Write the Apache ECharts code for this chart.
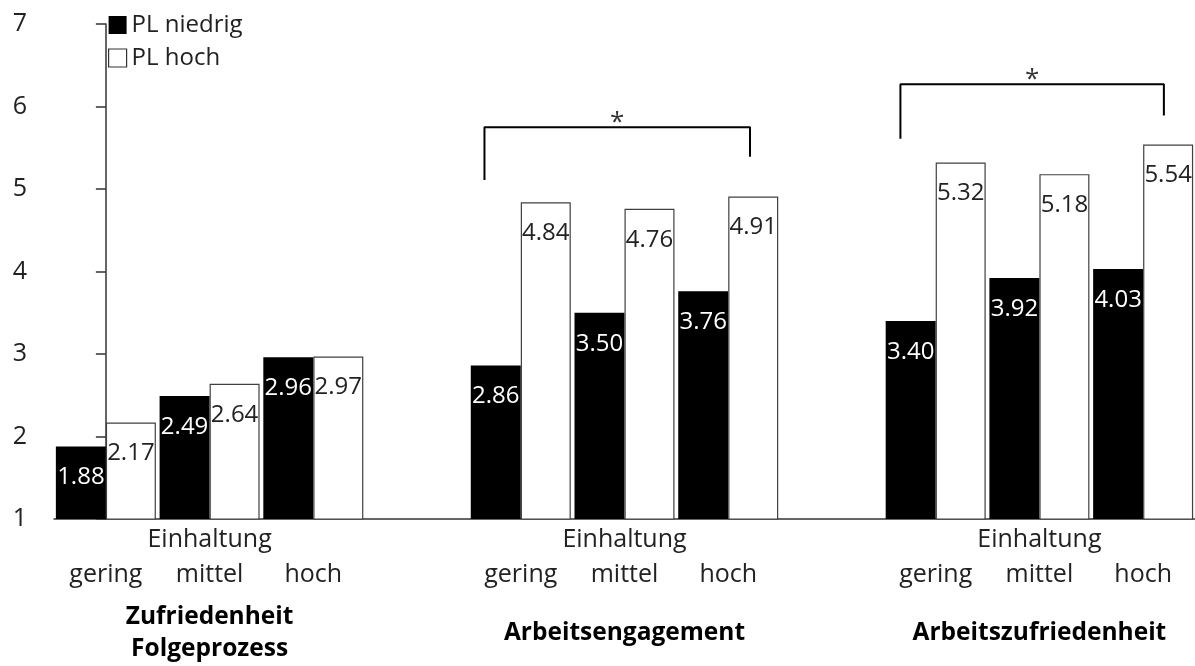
<!DOCTYPE html>
<html>
<head>
<meta charset="utf-8">
<script src="https://cdn.jsdelivr.net/npm/echarts@6/dist/echarts.min.js"></script>
<style>
  html, body { margin: 0; padding: 0; background: #fff; }
  #chart { width: 1195px; height: 666px; }
</style>
</head>
<body>
<div id="chart"></div>
<script>
// Compliance levels within each outcome block
const levels = ['gering', 'mittel', 'hoch'];
const levelCaption = 'Einhaltung';
// Outcome blocks, one per group of three levels
const groupTitles = ['Zufriedenheit\nFolgeprozess', 'Arbeitsengagement', 'Arbeitszufriedenheit'];
// Series names
const seriesNames = ['PL niedrig', 'PL hoch'];
// Means per slot ('-' marks the spacer slot between blocks)
const plNiedrig = [1.88, 2.49, 2.96, '-', 2.86, 3.50, 3.76, '-', 3.40, 3.92, 4.03];
const plHoch    = [2.17, 2.64, 2.97, '-', 4.84, 4.76, 4.91, '-', 5.32, 5.18, 5.54];
// Significance brackets in axis units (slot index, scale value)
const bracketEngagement   = [[3.65, 5.11], [3.65, 5.75], [6.21, 5.75], [6.21, 5.39]];
const bracketZufriedenheit = [[7.66, 5.61], [7.66, 6.27], [10.2, 6.27], [10.2, 5.89]];
const sigMarks = [[4.93, 5.75], [8.93, 6.27]];
// Y scale
const yMin = 1, yMax = 7, yStep = 1;

// Build the slot list: three levels per block, an empty spacer between blocks
const slots = [];
const titleSlots = [];
groupTitles.forEach((title, g) => {
  if (g > 0) { slots.push(''); titleSlots.push(''); }
  levels.forEach((lv, i) => {
    slots.push(lv);
    titleSlots.push(i === 1 ? title : '');
  });
});

const font = '"Open Sans", "Noto Sans", sans-serif';
const ink = '#222';

const chart = echarts.init(document.getElementById('chart'), null, { renderer: 'canvas' });

chart.setOption({
  backgroundColor: '#fff',
  animation: false,
  textStyle: { fontFamily: font },
  legend: {
    orient: 'vertical',
    left: 103,
    top: 8,
    itemWidth: 18,
    itemHeight: 18,
    itemGap: 9,
    icon: 'rect',
    textStyle: { fontFamily: font, fontSize: 24, color: ink, lineHeight: 24 },
    data: [
      { name: seriesNames[0], itemStyle: { color: '#000', borderWidth: 0 } },
      { name: seriesNames[1], itemStyle: { color: '#fff', borderColor: '#333', borderWidth: 1.2 } }
    ]
  },
  grid: { left: 54, top: 24, width: 1144, height: 495, containLabel: false },
  xAxis: [
    {
      type: 'category',
      data: slots,
      position: 'bottom',
      axisLine: { show: true, lineStyle: { color: '#333', width: 1.5 } },
      axisTick: { show: false },
      axisLabel: {
        interval: 0,
        margin: 3,
        fontFamily: font,
        fontSize: 25,
        lineHeight: 35,
        color: ink,
        formatter: (v, i) => {
          if (!v) return '';
          return (i % 4 === 1 ? levelCaption : '') + '\n' + v;
        }
      }
    },
    {
      type: 'category',
      data: titleSlots,
      position: 'bottom',
      axisLine: { show: false },
      axisTick: { show: false },
      axisLabel: {
        interval: 0,
        margin: 82,
        fontFamily: font,
        color: '#000',
        formatter: v => {
          if (!v) return '';
          const parts = v.split('\n');
          if (parts.length > 1) return parts.map(p => '{two|' + p + '}').join('\n');
          return '{one|' + v + '}';
        },
        rich: {
          two: { fontFamily: font, fontSize: 24.5, fontWeight: 'bold', lineHeight: 32, color: '#000' },
          one: { fontFamily: font, fontSize: 24.5, fontWeight: 'bold', lineHeight: 64, color: '#000' }
        }
      }
    },
    {
      type: 'value',
      min: -0.5,
      max: slots.length - 0.5,
      show: false
    }
  ],
  yAxis: {
    type: 'value',
    min: yMin,
    max: yMax,
    interval: yStep,
    splitLine: { show: false },
    axisLine: { show: true, lineStyle: { color: '#333', width: 1.5 } },
    axisTick: { show: true, inside: false, length: 10, lineStyle: { color: '#333', width: 1.5 } },
    axisLabel: { margin: 27, fontFamily: font, fontSize: 25, color: ink }
  },
  series: [
    {
      name: seriesNames[0],
      type: 'bar',
      xAxisIndex: 0,
      data: plNiedrig,
      barWidth: 50,
      barGap: '0%',
      itemStyle: { color: '#000' },
      label: {
        show: true,
        position: 'insideTop',
        distance: 19,
        fontFamily: font,
        fontSize: 24,
        lineHeight: 24,
        color: '#fff',
        formatter: p => Number(p.value).toFixed(2)
      }
    },
    {
      name: seriesNames[1],
      type: 'bar',
      xAxisIndex: 0,
      data: plHoch,
      barWidth: 50,
      barGap: '0%',
      itemStyle: { color: '#fff', borderColor: '#404040', borderWidth: 1.2 },
      label: {
        show: true,
        position: 'insideTop',
        distance: 19,
        fontFamily: font,
        fontSize: 24,
        lineHeight: 24,
        color: ink,
        formatter: p => Number(p.value).toFixed(2)
      }
    },
    {
      name: 'bracket-1',
      type: 'line',
      xAxisIndex: 2,
      data: bracketEngagement,
      symbol: 'none',
      lineStyle: { color: '#000', width: 2 },
      silent: true
    },
    {
      name: 'bracket-2',
      type: 'line',
      xAxisIndex: 2,
      data: bracketZufriedenheit,
      symbol: 'none',
      lineStyle: { color: '#000', width: 2 },
      silent: true
    },
    {
      name: 'sig',
      type: 'scatter',
      xAxisIndex: 2,
      data: sigMarks,
      symbolSize: 0,
      silent: true,
      label: {
        show: true,
        position: 'top',
        distance: -8,
        formatter: '*',
        fontFamily: font,
        fontSize: 26,
        color: '#000'
      }
    }
  ]
});
</script>
</body>
</html>
